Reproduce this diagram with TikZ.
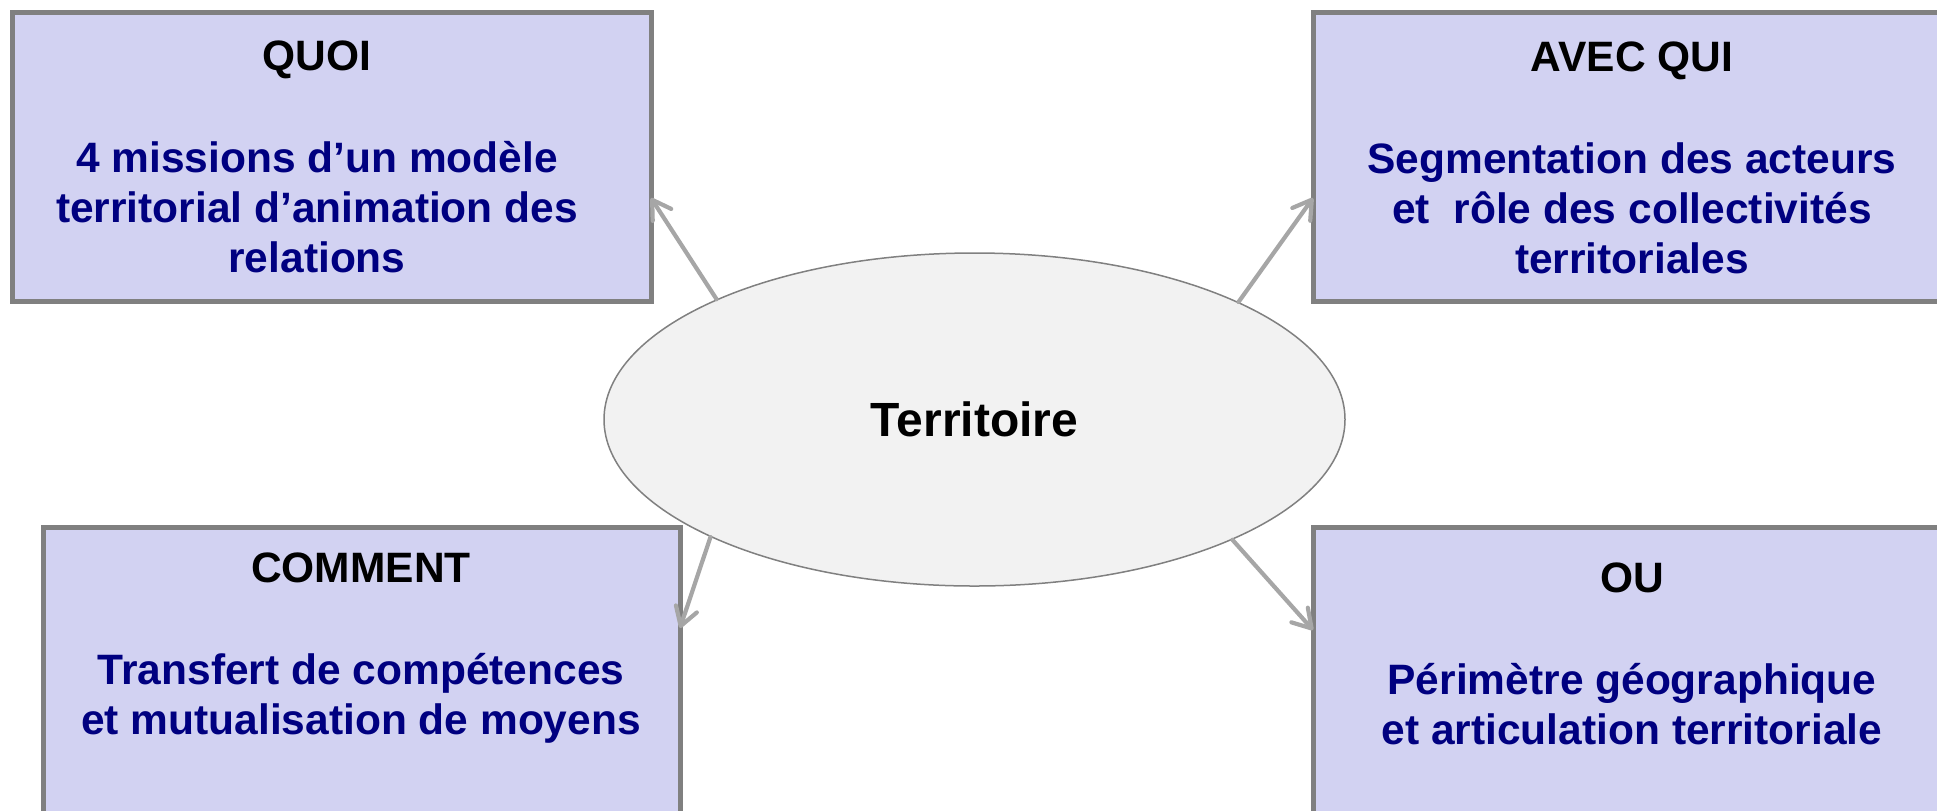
\documentclass[tikz,border=0pt]{standalone}
\usepackage{fontspec}
\setmainfont{Liberation Sans}
\usetikzlibrary{shapes.geometric,arrows.meta}
\definecolor{lavande}{RGB}{210,210,242}
\definecolor{bord}{RGB}{128,128,128}
\definecolor{fleche}{RGB}{166,166,166}
\definecolor{marine}{RGB}{0,0,128}
\definecolor{fond}{RGB}{242,242,242}
\tikzset{
  boite/.style={draw=bord, line width=2.5pt, fill=lavande, anchor=north west, inner sep=0, outer sep=0},
  texte/.style={anchor=north, inner sep=0, align=center, text=marine, font=\bfseries\fontsize{21.25}{25}\selectfont},
  fl/.style={draw=fleche, line width=2.1pt, line cap=round, -{Straight Barb[length=9pt,width=11pt,line cap=round,line join=round]}},
}
\begin{document}
\begin{tikzpicture}[x=0.5pt,y=-0.5pt]
\useasboundingbox (0,0) rectangle (1937,810);
% les quatre boites
\node[boite, minimum width=319.5pt, minimum height=144.5pt] (quoi) at (12,12) {};
\node[boite, minimum width=320pt, minimum height=144.5pt] (avec) at (1313,12) {};
\node[boite, minimum width=318.5pt, minimum height=161.5pt] (comment) at (43,527) {};
\node[boite, minimum width=319pt, minimum height=161.5pt] (ou) at (1313,527) {};
% textes
\node[texte] (quoi-t) at (317,40) {\textcolor{black}{QUOI}\\[26pt] 4 missions d’un modèle\\ territorial d’animation des\\ relations};
\node[texte] (avec-t) at (1632,41) {\textcolor{black}{AVEC QUI}\\[26pt] Segmentation des acteurs\\ et\ \ rôle des collectivités\\ territoriales};
\node[texte] (comment-t) at (361,552) {\textcolor{black}{COMMENT}\\[26pt] Transfert de compétences\\ et mutualisation de moyens};
\node[texte] (ou-t) at (1632,562) {\textcolor{black}{OU}\\[26pt] Périmètre géographique\\ et articulation territoriale};
% centre
\node[ellipse, draw=bord, fill=fond, line width=0.75pt, minimum width=370.5pt, minimum height=166.5pt, inner sep=0, font=\bfseries\fontsize{24}{28}\selectfont] (terr) at (974.5,419.5) {Territoire};
% fleches
\draw[fl] (terr.155.4) -- ([yshift=-20.75pt]quoi.east);
\draw[fl] (terr.24.6) -- ([yshift=-20.75pt]avec.west);
\draw[fl] (terr.204.6) -- ([yshift=30.25pt]comment.east);
\draw[fl] (terr.335.4) -- ([yshift=29.25pt]ou.west);
\end{tikzpicture}
\end{document}
